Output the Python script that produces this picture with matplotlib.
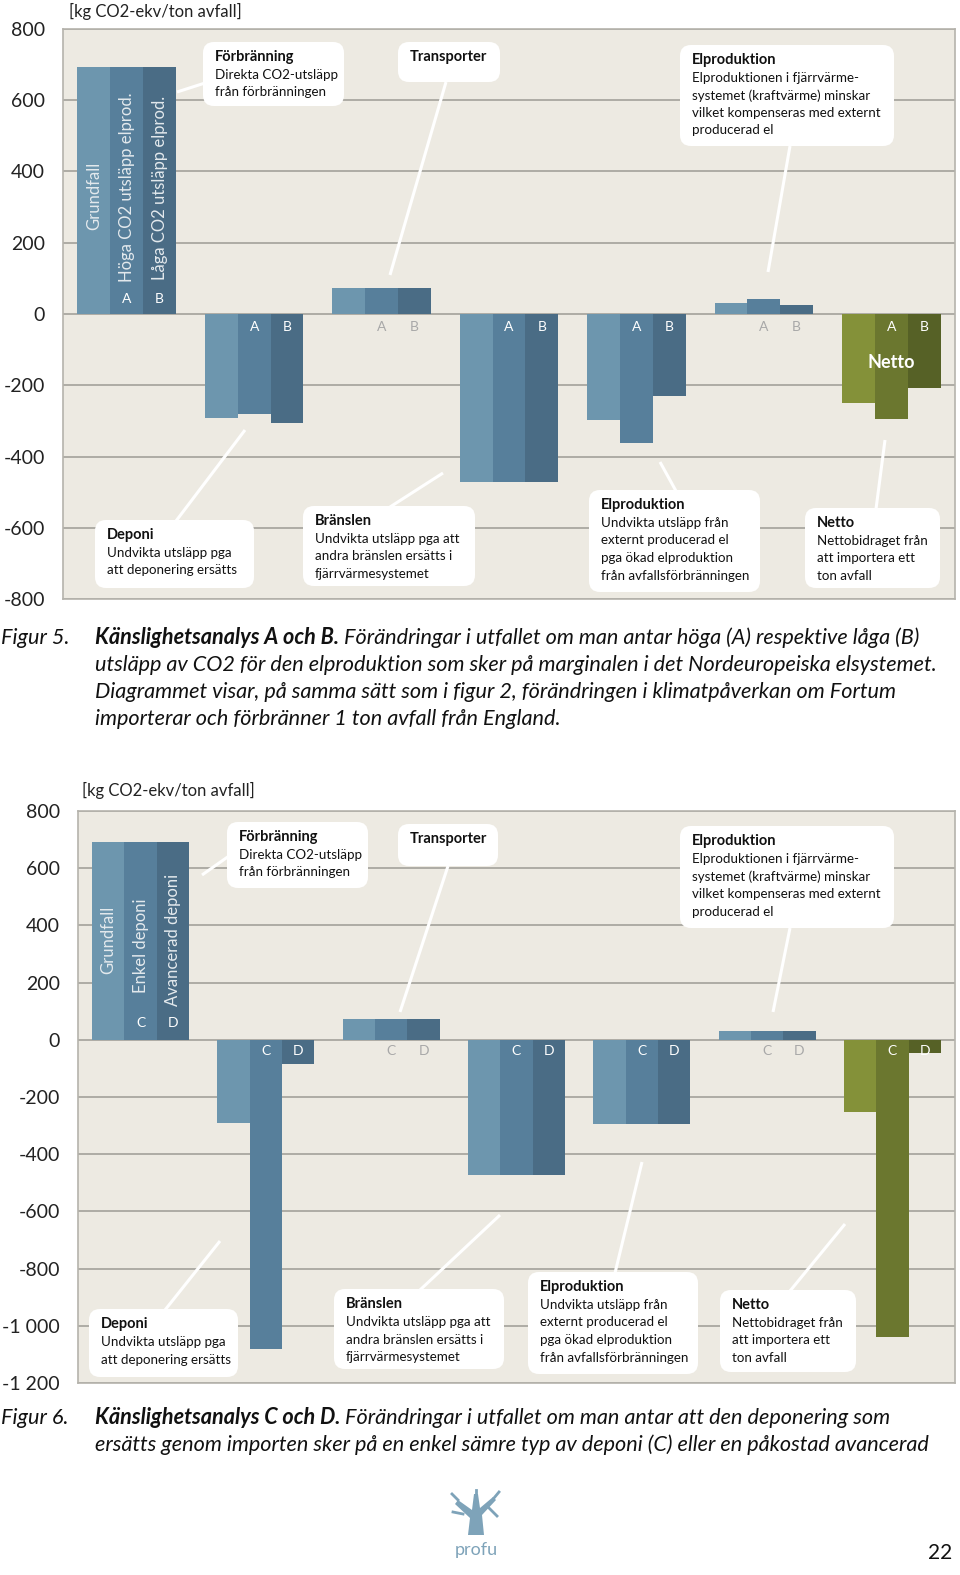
import numpy as np
import matplotlib.pyplot as plt
from matplotlib.patches import FancyBboxPatch, Polygon
from matplotlib.ticker import FuncFormatter

plt.rcParams['font.family'] = ['Lato', 'DejaVu Sans']

W, H = 960, 1575

# ---- data (kg CO2-ekv/ton avfall)
steps = ['Förbränning', 'Deponi', 'Transporter', 'Bränslen', 'Elproduktion (-)', 'Elproduktion (+)', 'Netto']

fig5_grundfall = [693, -292, 73, -472, -298, 31, -250]
fig5_a = [693, -281, 73, -472, -362, 42, -295]
fig5_b = [693, -306, 73, -472, -230, 25, -208]

fig6_grundfall = [692, -290, 73, -472, -294, 31, -251]
fig6_c = [692, -1080, 73, -472, -294, 31, -1038]
fig6_d = [692, -84, 73, -472, -294, 31, -45]

fig5_ticks = [-800, -600, -400, -200, 0, 200, 400, 600, 800]
fig6_ticks = [-1200, -1000, -800, -600, -400, -200, 0, 200, 400, 600, 800]

blues = ['#6d96ae', '#577f9b', '#4a6c85']
greens = ['#849139', '#6b772f', '#566126']
bg = '#edeae2'
gridc = '#a3a19a'

fig = plt.figure(figsize=(W / 100, H / 100), dpi=100)


def px_axes(l, t, r, b):
    return fig.add_axes([l / W, 1 - b / H, (r - l) / W, (b - t) / H])


def draw_chart(ax, series, letters, ylim, ticks, fmt, pos_lab, neg_lab):
    ax.set_facecolor(bg)
    x = np.arange(len(steps))
    w = 0.258
    for k, vals in enumerate(series):
        cols = [blues[k]] * 6 + [greens[k]]
        ax.bar(x + (k - 1) * w, vals, width=w, color=cols, zorder=3, linewidth=0)
    ax.set_xlim(-0.5, len(steps) - 0.5)
    ax.set_ylim(*ylim)
    ax.set_yticks(ticks)
    ax.yaxis.set_major_formatter(FuncFormatter(fmt))
    ax.set_xticks([])
    ax.grid(axis='y', color=gridc, linewidth=1.2, zorder=1)
    ax.tick_params(axis='y', length=0, pad=13, labelsize=14, labelcolor='#222222')
    for s in ax.spines.values():
        s.set_color('#b5b3ac')
        s.set_linewidth(1.2)
    # letters inside the bars
    for i in range(len(steps)):
        v = series[1][i]
        gray = i in (2, 5)
        col = '#a8a8a8' if gray else 'white'
        if v > 0 and not gray:
            y = pos_lab
        else:
            y = neg_lab
        for k in (1, 2):
            ax.text(i + (k - 1) * w, y, letters[k - 1], ha='center', va='center',
                    color=col, fontsize=10, zorder=5)


def fmt5(v, p):
    return '%d' % v


def fmt6(v, p):
    s = '%d' % abs(v)
    if len(s) > 3:
        s = s[:-3] + ' ' + s[-3:]
    return ('-' if v < 0 else '') + s


ax1 = px_axes(63, 29, 955, 599)
draw_chart(ax1, [fig5_grundfall, fig5_a, fig5_b], ['A', 'B'], (-800, 800),
           fig5_ticks, fmt5, 42, -37)
w = 0.258
vt = dict(rotation=90, color='#e3e9ed', fontsize=12, zorder=5, ha='center')
ax1.text(-w, 331, 'Grundfall', va='center', **vt)
ax1.text(0, 90, 'Höga CO2 utsläpp elprod.', va='bottom', **vt)
ax1.text(w, 96, 'Låga CO2 utsläpp elprod.', va='bottom', **vt)
ax1.text(6, -135, 'Netto', ha='center', va='center', color='white',
         fontsize=13, fontweight='bold', zorder=5)

ax2 = px_axes(78, 811, 955, 1383)
draw_chart(ax2, [fig6_grundfall, fig6_c, fig6_d], ['C', 'D'], (-1200, 800),
           fig6_ticks, fmt6, 60, -40)
ax2.text(-w, 350, 'Grundfall', va='center', **vt)
ax2.text(0, 165, 'Enkel deponi', va='bottom', **vt)
ax2.text(w, 118, 'Avancerad deponi', va='bottom', **vt)

# ---- overlay in pixel coordinates for callouts and captions
ov = fig.add_axes([0, 0, 1, 1])
ov.set_xlim(0, W)
ov.set_ylim(H, 0)
ov.axis('off')
ov.patch.set_alpha(0)


def callout(box, title, lines, leader):
    l, t, r, b = box
    ov.plot([leader[0][0], leader[1][0]], [leader[0][1], leader[1][1]],
            color='white', lw=2.2, solid_capstyle='butt', zorder=2)
    ov.add_patch(FancyBboxPatch((l, t), r - l, b - t,
                                boxstyle='round,pad=0,rounding_size=11',
                                fc='white', ec='none', zorder=3))
    ov.text(l + 12, t + 15, title, fontsize=10.5, fontweight='bold',
            va='center', color='#111111', zorder=4)
    for j, ln in enumerate(lines):
        ov.text(l + 12, t + 33 + 17.5 * j, ln, fontsize=9.6, va='center',
                color='#111111', zorder=4)


# figure 5 callouts
callout((203, 42, 344, 106), 'Förbränning', ['Direkta CO2-utsläpp', 'från förbränningen'],
        ((177, 92), (205, 83)))
callout((398, 42, 500, 82), 'Transporter', [], ((446, 82), (390, 275)))
callout((680, 45, 894, 146), 'Elproduktion',
        ['Elproduktionen i fjärrvärme-', 'systemet (kraftvärme) minskar',
         'vilket kompenseras med externt', 'producerad el'], ((790, 146), (768, 272)))
callout((95, 520, 254, 588), 'Deponi', ['Undvikta utsläpp pga', 'att deponering ersätts'],
        ((176, 521), (245, 430)))
callout((303, 506, 475, 586), 'Bränslen',
        ['Undvikta utsläpp pga att', 'andra bränslen ersätts i', 'fjärrvärmesystemet'],
        ((390, 507), (443, 473)))
callout((589, 490, 760, 592), 'Elproduktion',
        ['Undvikta utsläpp från', 'externt producerad el', 'pga ökad elproduktion',
         'från avfallsförbränningen'], ((676, 491), (660, 462)))
callout((805, 508, 940, 588), 'Netto',
        ['Nettobidraget från', 'att importera ett', 'ton avfall'], ((876, 509), (885, 440)))

# figure 6 callouts
callout((227, 822, 368, 888), 'Förbränning', ['Direkta CO2-utsläpp', 'från förbränningen'],
        ((202, 875), (229, 856)))
callout((398, 824, 498, 866), 'Transporter', [], ((448, 866), (400, 1012)))
callout((680, 826, 894, 928), 'Elproduktion',
        ['Elproduktionen i fjärrvärme-', 'systemet (kraftvärme) minskar',
         'vilket kompenseras med externt', 'producerad el'], ((790, 928), (773, 1012)))
callout((89, 1309, 238, 1377), 'Deponi', ['Undvikta utsläpp pga', 'att deponering ersätts'],
        ((165, 1310), (220, 1241)))
callout((334, 1289, 504, 1369), 'Bränslen',
        ['Undvikta utsläpp pga att', 'andra bränslen ersätts i', 'fjärrvärmesystemet'],
        ((420, 1290), (500, 1215)))
callout((528, 1272, 698, 1374), 'Elproduktion',
        ['Undvikta utsläpp från', 'externt producerad el', 'pga ökad elproduktion',
         'från avfallsförbränningen'], ((615, 1273), (642, 1162)))
callout((720, 1290, 856, 1372), 'Netto',
        ['Nettobidraget från', 'att importera ett', 'ton avfall'], ((790, 1291), (845, 1224)))

# unit labels
ov.text(69, 11, '[kg CO2-ekv/ton avfall]', fontsize=12, va='center', color='#222222')
ov.text(82, 790, '[kg CO2-ekv/ton avfall]', fontsize=12, va='center', color='#222222')


def caption(y0, label, bold, rest, more):
    cs = 15.6
    ov.text(1, y0, label, fontsize=cs, style='italic', va='center', color='#111111')
    t1 = ov.text(95, y0, bold, fontsize=cs, style='italic', fontweight='bold',
                 va='center', color='#111111')
    ov.annotate(rest, xy=(1, 0), xycoords=t1, va='bottom', fontsize=cs,
                style='italic', color='#111111')
    for j, ln in enumerate(more):
        ov.text(95, y0 + 27 * (j + 1), ln, fontsize=cs, style='italic',
                va='center', color='#111111')


caption(638, 'Figur 5.', 'Känslighetsanalys A och B.',
        ' Förändringar i utfallet om man antar höga (A) respektive låga (B)',
        ['utsläpp av CO2 för den elproduktion som sker på marginalen i det Nordeuropeiska elsystemet.',
         'Diagrammet visar, på samma sätt som i figur 2, förändringen i klimatpåverkan om Fortum',
         'importerar och förbränner 1 ton avfall från England.'])
caption(1418, 'Figur 6.', 'Känslighetsanalys C och D.',
        ' Förändringar i utfallet om man antar att den deponering som',
        ['ersätts genom importen sker på en enkel sämre typ av deponi (C) eller en påkostad avancerad'])

# logo (simple tree) and page number
lc = '#7ea3b9'
ov.add_patch(Polygon([(468, 1535), (484, 1535), (482, 1515), (496, 1500), (493, 1497),
                      (480, 1508), (478, 1494), (474, 1494), (472, 1510), (458, 1500),
                      (455, 1504), (470, 1518)], closed=True, fc=lc, ec='none'))
for seg in [((458, 1500), (452, 1494)), ((494, 1498), (499, 1492)), ((476, 1494), (476, 1490)),
            ((463, 1514), (453, 1512)), ((489, 1508), (497, 1516))]:
    ov.plot([seg[0][0], seg[1][0]], [seg[0][1], seg[1][1]], color=lc, lw=2)
ov.text(476, 1550, 'profu', fontsize=13, color=lc, ha='center', va='center')
ov.text(952, 1553, '22', fontsize=15, color='#111111', ha='right', va='center')

fig.savefig('out.png', dpi=100, facecolor='white')
